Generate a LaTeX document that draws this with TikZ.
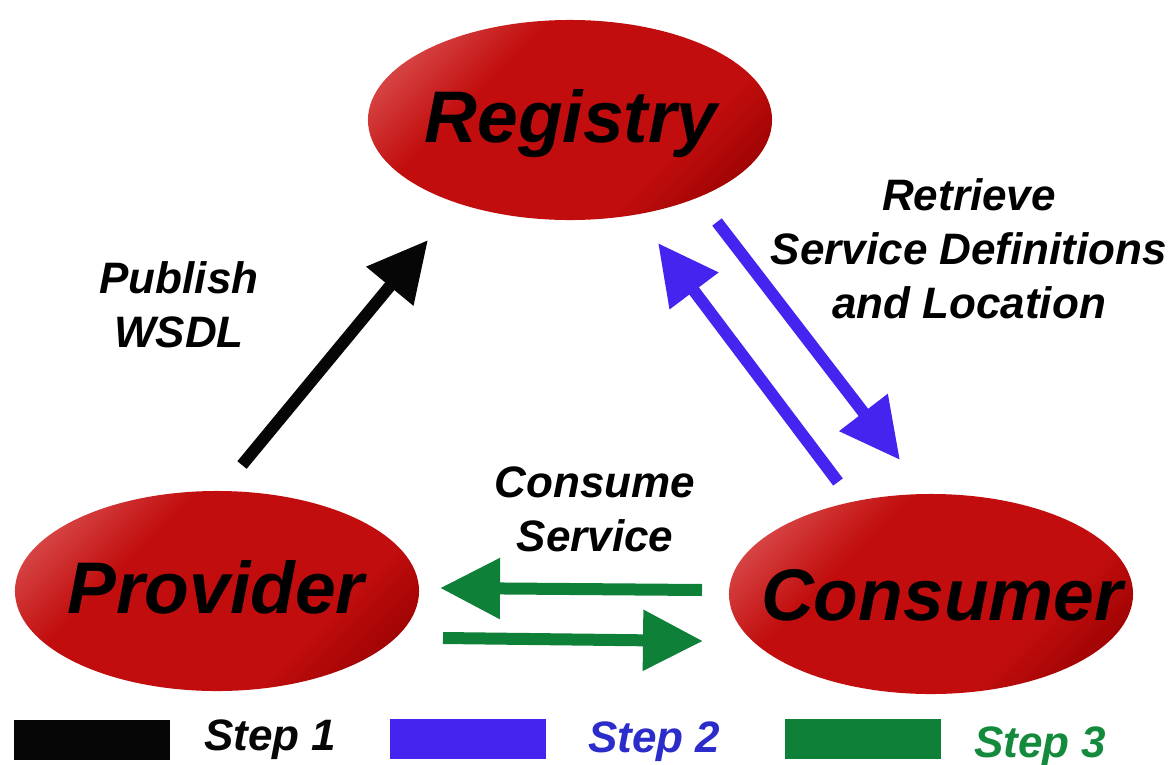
\documentclass[tikz,border=0pt]{standalone}
\usepackage{fontspec}
\setmainfont{Liberation Sans}
\usetikzlibrary{shapes.geometric,arrows.meta}
\definecolor{redmain}{HTML}{C10D0D}
\definecolor{redhi}{HTML}{DC5252}
\definecolor{redlo}{HTML}{930000}
\definecolor{stepblack}{HTML}{060606}
\definecolor{stepblue}{HTML}{4424EE}
\definecolor{stepbluetext}{HTML}{2C2CCB}
\definecolor{stepgreen}{HTML}{0E8038}
\definecolor{stepgreentext}{HTML}{148A3C}
\pgfdeclareverticalshading{redbody}{100bp}{color(0bp)=(redlo); color(19bp)=(redlo);
  color(34bp)=(redmain); color(64bp)=(redmain); color(80bp)=(redhi); color(100bp)=(redhi)}
\tikzset{
 actor/.style={ellipse, minimum width=10.1cm, minimum height=5cm, inner sep=0pt,
   shading=redbody, shading angle=45},
 actortext/.style={font=\fontsize{52}{62}\selectfont\bfseries\itshape, anchor=base, inner sep=0pt},
 note/.style={font=\fontsize{31.3}{38.4}\selectfont\bfseries\itshape, align=center, inner sep=0pt},
 steplabel/.style={font=\fontsize{31.3}{38.4}\selectfont\bfseries\itshape, anchor=base west, inner sep=0pt},
 keybox/.style={minimum width=3.9cm, minimum height=1cm, inner sep=0pt},
 flow/.style={line width=0.3cm, -{Triangle[length=1.5cm,width=1.45cm]}},
 }

\begin{document}
\begin{tikzpicture}[x=0.025cm, y=-0.025cm]
        \useasboundingbox (0,0) rectangle (1176,764);
        % the three parties
        \node[actor] (reg) at (570,120) {};
        \node[actor] (prov) at (217,591) {};
        \node[actor] (cons) at (931,594) {};
        \node[actortext] (regtxt) at (571,142) {Registry};
        \node[actortext] (provtxt) at (216,613) {Provider};
        \node[actortext] (constxt) at (942,620) {Consumer};
        % arrow ends
        \coordinate (pubs) at (242,465);
        \coordinate (pube) at (428,240);
        \coordinate (gets) at (717,222);
        \coordinate (gete) at (900,460);
        \coordinate (asks) at (838,482);
        \coordinate (aske) at (658,243);
        \coordinate (calls) at (702,590);
        \coordinate (calle) at (440,588);
        \coordinate (backs) at (443,638);
        \coordinate (backe) at (703,641);
        \draw[flow, stepblack] (pubs) -- (pube);
        \draw[flow, stepblue] (gets) -- (gete);
        \draw[flow, stepblue] (asks) -- (aske);
        \draw[flow, stepgreen] (calls) -- (calle);
        \draw[flow, stepgreen] (backs) -- (backe);
        % labels
        \node[note] (pubtxt) at (179,304.5) {Publish\\WSDL};
        \node[note] (gettxt) at (969,249) {Retrieve\\Service Definitions\\and Location};
        \node[note] (calltxt) at (595,509) {Consume\\Service};
        % key
        \node[keybox, fill=stepblack] (key1) at (92,740) {};
        \node[keybox, fill=stepblue] (key2) at (468,739) {};
        \node[keybox, fill=stepgreen] (key3) at (863,739) {};
        \node[steplabel, text=stepblack] (step1) at (204,750) {Step 1};
        \node[steplabel, text=stepbluetext] (step2) at (588,752) {Step 2};
        \node[steplabel, text=stepgreentext] (step3) at (974,757) {Step 3};
    \end{tikzpicture}
\end{document}
